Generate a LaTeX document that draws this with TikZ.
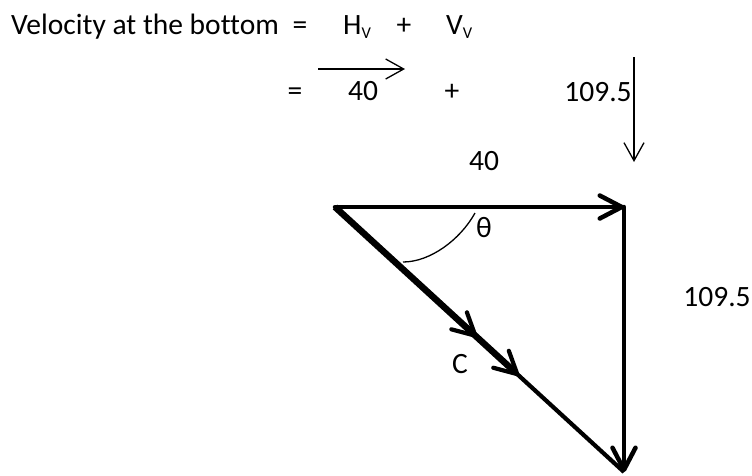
\documentclass[tikz,border=0pt]{standalone}
\usepackage{fontspec}
\setmainfont{Carlito}[Ligatures=NoCommon]
\usetikzlibrary{arrows.meta,decorations.markings,calc}
\tikzset{
  lbl/.style={anchor=base,inner sep=0pt,font=\fontsize{29.5}{35}\selectfont},
  thinvec/.style={line width=1.3pt,-{Straight Barb[length=18pt,width=20pt]}},
  boldvec/.style={line width=4.5pt,line cap=round,-{Straight Barb[length=22pt,width=23pt,round]}},
  arcline/.style={line width=1.3pt}
}
\newcommand{\subv}{\raisebox{-4pt}{\fontsize{16.5}{17}\selectfont V}}
\begin{document}
\begin{tikzpicture}[x=1pt,y=-1pt]
\useasboundingbox (0,0) rectangle (752,475);
% row 1
\node[lbl,anchor=base west] (t1) at (11,34) {Velocity at the bottom};
\node[lbl] (eq1) at (300,34) {=};
\node[lbl,anchor=base west] (hv) at (343,34) {H\subv};
\node[lbl] (pl1) at (404,34) {+};
\node[lbl,anchor=base west] (vv) at (446,34) {V\subv};
% row 2
\node[lbl] (eq2) at (295,100) {=};
\node[lbl] (h40) at (363,100) {40};
\node[lbl] (pl2) at (452,100) {+};
\node[lbl] (v109) at (598,101) {109.5};
\coordinate (ha) at (318,69);
\coordinate (hb) at (405,69);
\draw[thinvec] (ha) -- (hb);
\coordinate (va) at (634,57);
\coordinate (vb) at (634,162);
\draw[thinvec] (va) -- (vb);
% triangle
\coordinate (A) at (335,207);
\coordinate (B) at (624,207);
\coordinate (C) at (624,472);
\node[lbl] (l40) at (484,170) {40};
\node[lbl] (l109) at (717,306) {109.5};
\node[lbl] (th) at (484,237) {θ};
\node[lbl] (lc) at (460,373) {C};
\draw[boldvec] (A) -- (B);
\draw[boldvec] (B) -- (C);
\draw[line width=6.5pt] (A) -- ($(A)!0.625!(C)$);
\draw[line width=4.2pt,
  postaction={decorate,decoration={markings,
    mark=at position 0.491 with {\arrow[line width=4.2pt]{Straight Barb[length=22pt,width=23pt,round]}},
    mark=at position 0.636 with {\arrow[line width=4.2pt]{Straight Barb[length=22pt,width=23pt,round]}}}}]
  (A) -- (C);
% angle arc
\coordinate (r1) at (475,213);
\coordinate (r2) at (403,262);
\draw[arcline] (r1) .. controls (460,240) and (430,262) .. (r2);
\end{tikzpicture}
\end{document}
